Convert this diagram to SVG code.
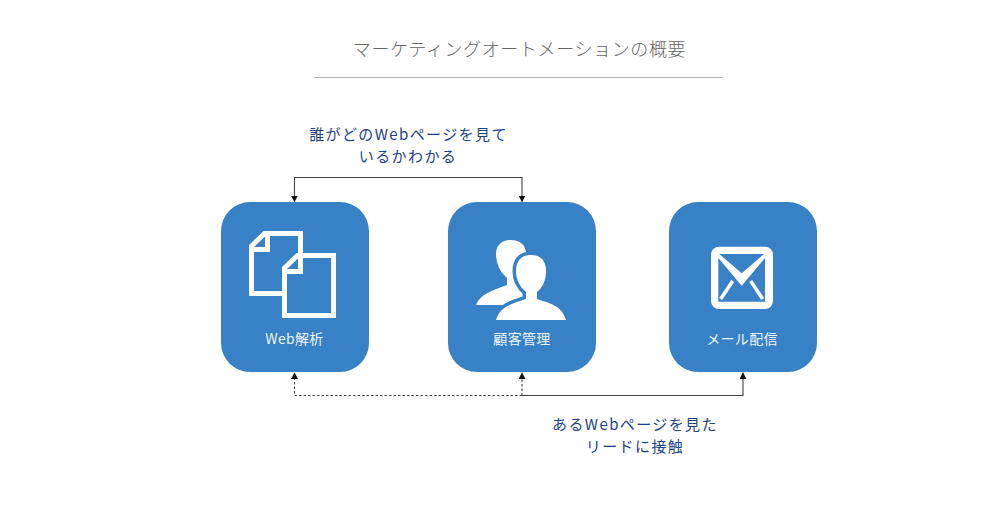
<svg xmlns="http://www.w3.org/2000/svg" width="1000" height="518" viewBox="0 0 1000 518">
<style>
text{font-family:"Noto Sans CJK JP","Noto Sans",sans-serif;text-anchor:middle}
.title{font-size:18px;fill:#666;letter-spacing:.62px;font-weight:300}
.note{font-size:15px;fill:#1f4388;letter-spacing:1.400px;font-weight:400}
.lab{font-size:14px;fill:#eef4fb;letter-spacing:.35px;font-weight:400}
.box{fill:#3881c6}
.ic{fill:#fff}
.doc{fill:#3881c6;stroke:#fff;stroke-width:5}
.fold{fill:none;stroke:#fff;stroke-width:5}
.ln{fill:none;stroke:#444;stroke-width:1.100}
.dash{stroke-dasharray:2.500 2}
.hole{fill:#3881c6}
.stripe{stroke:#fff;stroke-width:3.500;fill:none}
</style>
<defs>
<marker id="ah" markerWidth="7" markerHeight="7" refX="6.500" refY="3.500" orient="auto" markerUnits="userSpaceOnUse"><path d="M0 0L6.500 3.500L0 7Z" fill="#111"/></marker>
</defs>
<rect width="1000" height="518" fill="#fff"/>
<text class="title" x="519.500" y="56">マーケティングオートメーションの概要</text>
<path d="M314 77.500H723" stroke="#b4b4b4" stroke-width="1" fill="none"/>
<g id="connectors">
<path class="ln" d="M408 177.500H294.500V202" marker-end="url(#ah)"/>
<path class="ln" d="M408 177.500H522V202" marker-end="url(#ah)"/>
<path class="ln dash" d="M522 395.500H294.500V372.500" marker-end="url(#ah)"/>
<path class="ln dash" d="M522 395.500V372.500" marker-end="url(#ah)"/>
<path class="ln" d="M522 395.500H743V372.500" marker-end="url(#ah)"/>
</g>
<text class="note"><tspan x="408.500" y="139.500">誰がどのWebページを見て</tspan><tspan x="408" y="161.500">いるかわかる</tspan></text>
<text class="note"><tspan x="635" y="429.500">あるWebページを見た</tspan><tspan x="635" y="451.500">リードに接触</tspan></text>
<g id="node-web">
<rect class="box" x="221" y="202" width="148" height="170" rx="29"/>
<path class="doc" d="M264.500 233.500H300.500V293.500H251.500V246Z"/>
<path class="fold" d="M267.500 233V249.500H251"/>
<path class="doc" d="M297.500 255.500H333.500V315.500H284.500V268Z"/>
<path class="fold" d="M300.500 255V271.500H284"/>
<text class="lab" x="294.500" y="344">Web解析</text>
</g>
<g id="node-crm">
<rect class="box" x="448" y="202" width="148" height="170" rx="29"/>
<path class="ic" d="M476 305C480 295 490 291 507 285V278C500 272 496 263 496 254C496 245 502 240 511 240C520 240 526 245 526 254V305Z"/>
<path class="ic" stroke="#3881c6" stroke-width="7" paint-order="stroke" d="M531 255C541 255 546 261 546 271C546 280 543 287 537 292V299C548 303 562 305 566 320H496C500 306 514 303 526 299V292C520 287 516 280 516 271C516 261 521 255 531 255Z"/>
<text class="lab" x="522" y="344">顧客管理</text>
</g>
<g id="node-mail">
<rect class="box" x="669" y="202" width="148" height="170" rx="29"/>
<rect class="ic" x="711" y="246.700" width="62" height="62.300" rx="8"/>
<path class="hole" d="M719.300 254H764L741.700 273.300Z"/>
<path class="hole" d="M718.300 258L741.700 285.700L765 258V301.700H718.300Z"/>
<path class="stripe" d="M720.700 299L732.700 281"/>
<path class="stripe" d="M762.700 299L750.700 281"/>
<text class="lab" x="742" y="344">メール配信</text>
</g>
</svg>
